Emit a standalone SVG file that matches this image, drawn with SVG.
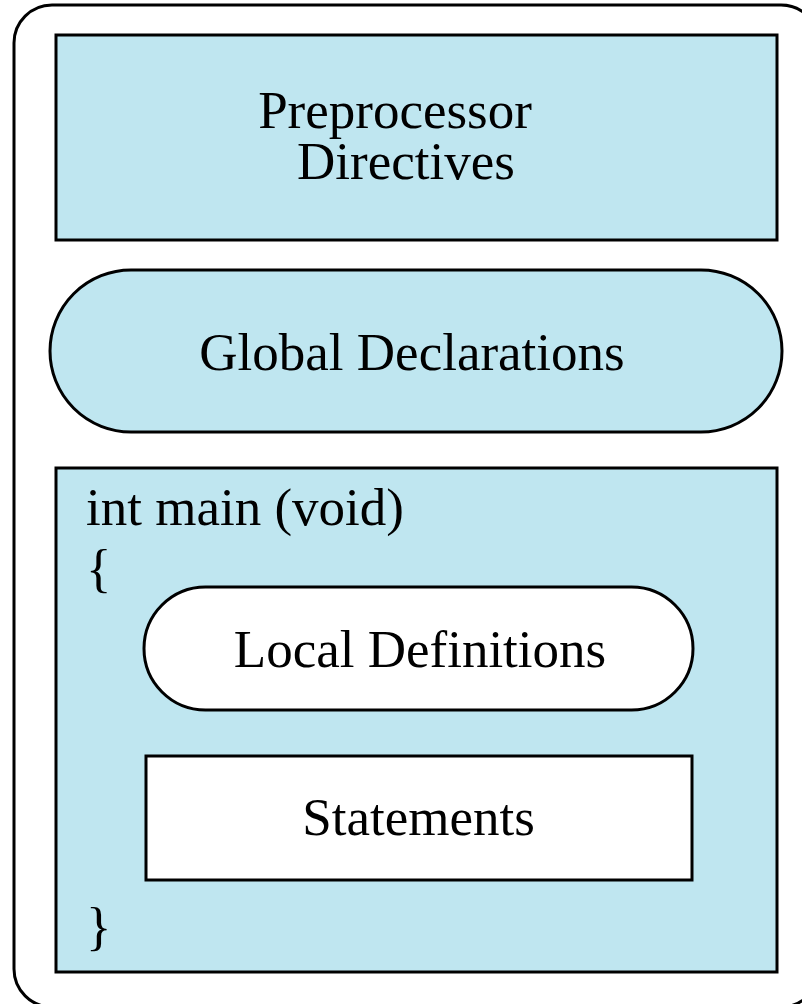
<svg xmlns="http://www.w3.org/2000/svg" width="802" height="1004" viewBox="0 0 802 1004">
<style>
.blue{fill:#bfe6f0;stroke:#000;stroke-width:3}
.white{fill:#fff;stroke:#000;stroke-width:3}
.t{font-family:"Liberation Serif","Times New Roman",serif;font-size:53px;fill:#000}
.c{text-anchor:middle}
</style>
<rect id="frame" x="14" y="5" width="805" height="1002" rx="38" fill="#fff" stroke="#000" stroke-width="3"/>
<g id="preprocessor">
<rect class="blue" x="56" y="35" width="721" height="205"/>
<text class="t c" x="395" y="128">Preprocessor</text>
<text class="t c" x="406" y="179">Directives</text>
</g>
<g id="global">
<rect class="blue" x="50" y="270" width="732" height="162" rx="81"/>
<text class="t c" x="412" y="370">Global Declarations</text>
</g>
<g id="main">
<rect class="blue" x="56" y="468" width="721" height="504"/>
<text class="t" x="86" y="525">int main (void)</text>
<text class="t" x="86" y="586">{</text>
<text class="t" x="86" y="944">}</text>
</g>
<g id="local">
<rect class="white" x="144" y="587" width="549" height="123" rx="61.5"/>
<text class="t c" x="420" y="667">Local Definitions</text>
</g>
<g id="statements">
<rect class="white" x="146" y="756" width="546" height="124"/>
<text class="t c" x="418.5" y="835">Statements</text>
</g>
<g id="connectors"></g>
</svg>
